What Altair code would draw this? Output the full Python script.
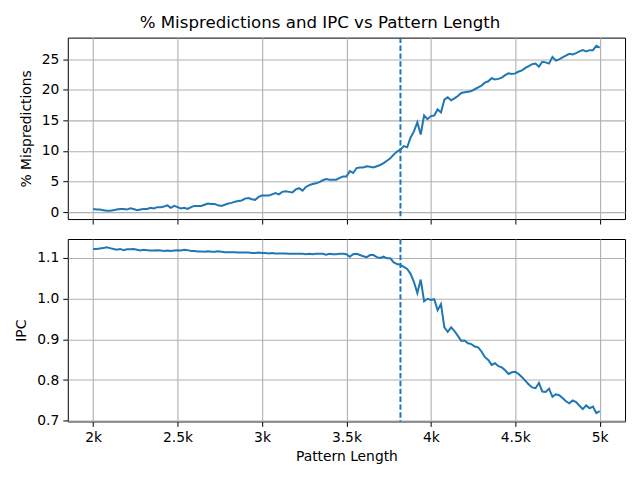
import altair as alt
import pandas as pd

# Pattern lengths swept from 2000 to 5000 in steps of 20
pattern_length = list(range(2000, 5001, 20))

mispredictions = [
    0.5, 0.4, 0.4, 0.3, 0.2, 0.2, 0.3, 0.4, 0.5, 0.5,
    0.4, 0.6, 0.5, 0.3, 0.4, 0.5, 0.5, 0.7, 0.6, 0.8,
    0.8, 0.9, 1.1, 0.7, 1.0, 0.8, 0.6, 0.7, 0.5, 0.8,
    1.0, 1.0, 1.0, 1.2, 1.4, 1.3, 1.3, 1.1, 1.0, 1.2,
    1.4, 1.5, 1.7, 1.8, 1.9, 2.2, 2.3, 2.1, 2.0, 2.5,
    2.7, 2.7, 2.7, 2.9, 3.1, 2.9, 3.3, 3.4, 3.3, 3.2,
    3.7, 3.9, 3.5, 4.1, 4.4, 4.6, 4.7, 4.9, 5.2, 5.4,
    5.3, 5.3, 5.3, 5.6, 5.8, 5.8, 6.7, 6.4, 7.2, 7.3,
    7.3, 7.5, 7.4, 7.3, 7.5, 7.7, 8.0, 8.4, 8.8, 9.4,
    9.9, 10.2, 10.8, 10.6, 12.2, 13.2, 14.7, 12.7, 15.8, 15.2,
    15.7, 15.8, 16.8, 16.3, 18.4, 18.8, 18.3, 18.6, 19.0, 19.5,
    19.6, 19.7, 19.8, 20.1, 20.4, 20.7, 21.2, 21.4, 21.9, 21.7,
    21.8, 22.0, 22.4, 22.7, 22.6, 22.7, 23.0, 23.2, 23.6, 23.9,
    24.2, 24.3, 23.8, 24.6, 24.5, 24.3, 25.4, 24.8, 25.0, 25.3,
    25.6, 25.9, 25.8, 26.0, 26.3, 26.5, 26.3, 26.5, 26.5, 27.2,
    26.9,
]

ipc = [
    1.121, 1.121, 1.122, 1.123, 1.125, 1.123, 1.121, 1.119, 1.121, 1.118,
    1.120, 1.120, 1.121, 1.119, 1.117, 1.119, 1.118, 1.117, 1.117, 1.118,
    1.117, 1.116, 1.117, 1.116, 1.117, 1.118, 1.117, 1.119, 1.118, 1.116,
    1.116, 1.115, 1.115, 1.114, 1.115, 1.114, 1.114, 1.115, 1.114, 1.113,
    1.113, 1.113, 1.113, 1.112, 1.112, 1.112, 1.112, 1.111, 1.111, 1.112,
    1.111, 1.111, 1.110, 1.111, 1.110, 1.110, 1.110, 1.110, 1.109, 1.109,
    1.109, 1.109, 1.109, 1.108, 1.109, 1.108, 1.109, 1.109, 1.109, 1.107,
    1.109, 1.108, 1.108, 1.109, 1.109, 1.108, 1.102, 1.108, 1.109, 1.106,
    1.103, 1.101, 1.106, 1.106, 1.101, 1.099, 1.102, 1.098, 1.098, 1.088,
    1.084, 1.082, 1.077, 1.072, 1.060, 1.040, 1.013, 1.046, 0.993, 0.999,
    0.996, 0.998, 0.971, 0.986, 0.929, 0.918, 0.929, 0.920, 0.908, 0.896,
    0.897, 0.890, 0.888, 0.882, 0.880, 0.870, 0.856, 0.849, 0.837, 0.841,
    0.834, 0.831, 0.824, 0.815, 0.819, 0.820, 0.815, 0.807, 0.798, 0.789,
    0.782, 0.780, 0.793, 0.772, 0.771, 0.779, 0.759, 0.765, 0.763, 0.756,
    0.748, 0.743, 0.750, 0.746, 0.737, 0.729, 0.738, 0.731, 0.735, 0.719,
    0.724,
]

# Pattern length marked by the dashed vertical line
threshold = [3820]

x_ticks = [2000, 2500, 3000, 3500, 4000, 4500, 5000]
misp_ticks = [0, 5, 10, 15, 20, 25]
ipc_ticks = [0.7, 0.8, 0.9, 1.0, 1.1]

df = pd.DataFrame({
    "pattern_length": pattern_length,
    "mispredictions": mispredictions,
    "ipc": ipc,
})
rule_df = pd.DataFrame({"pattern_length": threshold})

BLUE = "#1f77b4"
FONT = "DejaVu Sans"
x_scale = alt.Scale(domain=[1850, 5150], nice=False, zero=False)


def panel(field, title, domain, ticks, fmt, show_x_labels, extent):
    x_axis = alt.Axis(
        values=x_ticks,
        labels=show_x_labels,
        labelExpr="datum.value / 1000 + 'k'",
        title="Pattern Length" if show_x_labels else None,
    )
    line = alt.Chart(df).mark_line(color=BLUE, strokeWidth=2).encode(
        x=alt.X("pattern_length:Q", scale=x_scale, axis=x_axis),
        y=alt.Y(
            f"{field}:Q",
            scale=alt.Scale(domain=domain, nice=False, zero=False),
            axis=alt.Axis(
                values=ticks, format=fmt, title=title,
                minExtent=extent, maxExtent=extent,
            ),
        ),
    )
    rule = alt.Chart(rule_df).mark_rule(
        color=BLUE, strokeWidth=2, strokeDash=[5.5, 2.4]
    ).encode(x=alt.X("pattern_length:Q", scale=x_scale))
    return alt.layer(line, rule).properties(width=559, height=182)


top = panel("mispredictions", "% Mispredictions", [-1.15, 28.55], misp_ticks, "d", False, 29)
bottom = panel("ipc", "IPC", [0.6987, 1.1453], ipc_ticks, ".1f", True, 34).properties(height=183)

chart = alt.vconcat(top, bottom, spacing=12).properties(
    title=alt.Title(
        "% Mispredictions and IPC vs Pattern Length",
        fontSize=16.7,
        fontWeight="normal",
        font=FONT,
        color="black",
        anchor="middle",
        offset=4,
    ),
    autosize=alt.AutoSizeParams(type="pad"),
    padding={"left": 14, "top": 14, "right": 14, "bottom": 14},
).configure_view(
    stroke="black", strokeWidth=1
).configure_axis(
    domain=False,
    grid=True,
    gridColor="#b0b0b0",
    gridWidth=1.1,
    tickColor="black",
    tickSize=5,
    tickWidth=1,
    labelFont=FONT,
    labelFontSize=13.9,
    labelColor="black",
    labelPadding=4,
    titleFont=FONT,
    titleFontSize=13.9,
    titleFontWeight="normal",
    titleColor="black",
    titlePadding=5,
)

chart.save("out.html", embed_options={"renderer": "svg", "actions": False})
